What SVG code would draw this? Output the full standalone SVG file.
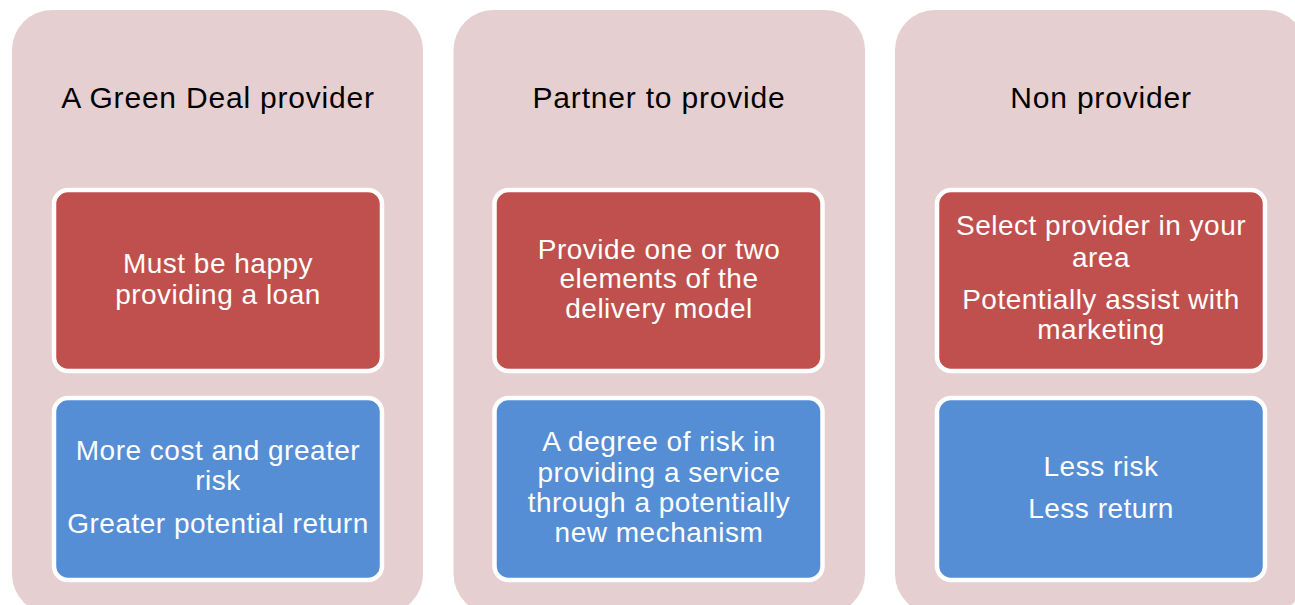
<svg xmlns="http://www.w3.org/2000/svg" width="1295" height="605" viewBox="0 0 1295 605">
  <style>
    .col { fill: #E6CFD0; }
    .title { font-family: "Liberation Sans", Arial, sans-serif; font-size: 30px; letter-spacing: 0.8px; fill: #000; text-anchor: middle; }
    .box { stroke: #FFFFFF; stroke-width: 4.5; }
    .red { fill: #C0504D; }
    .blue { fill: #558ED5; }
    .txt { font-family: "Liberation Sans", Arial, sans-serif; font-size: 28px; letter-spacing: 0.5px; fill: #FFFFFF; text-anchor: middle; }
  </style>

  <!-- Column 1 -->
  <g id="col-provider">
    <rect class="col" x="12" y="10" width="411" height="604" rx="40" ry="40"/>
    <text class="title" x="218" y="108">A Green Deal provider</text>
  </g>
  <g id="provider-requirement">
    <rect class="box red" x="54" y="190" width="328" height="181" rx="14" ry="14"/>
    <text class="txt" x="218" y="273">Must be happy</text>
    <text class="txt" x="218" y="304">providing a loan</text>
  </g>
  <g id="provider-risk">
    <rect class="box blue" x="54" y="398" width="328" height="182" rx="14" ry="14"/>
    <text class="txt" x="218" y="460">More cost and greater</text>
    <text class="txt" x="218" y="490">risk</text>
    <text class="txt" x="218" y="532.5">Greater potential return</text>
  </g>

  <!-- Column 2 -->
  <g id="col-partner">
    <rect class="col" x="453.5" y="10" width="411.5" height="604" rx="40" ry="40"/>
    <text class="title" x="659" y="108">Partner to provide</text>
  </g>
  <g id="partner-requirement">
    <rect class="box red" x="494.5" y="190" width="328" height="181" rx="14" ry="14"/>
    <text class="txt" x="659" y="258.5">Provide one or two</text>
    <text class="txt" x="659" y="288">elements of the</text>
    <text class="txt" x="659" y="317.5">delivery model</text>
  </g>
  <g id="partner-risk">
    <rect class="box blue" x="494.5" y="398" width="328" height="182" rx="14" ry="14"/>
    <text class="txt" x="659" y="450.5">A degree of risk in</text>
    <text class="txt" x="659" y="481.5">providing a service</text>
    <text class="txt" x="659" y="511.5">through a potentially</text>
    <text class="txt" x="659" y="542">new mechanism</text>
  </g>

  <!-- Column 3 -->
  <g id="col-non-provider">
    <rect class="col" x="895" y="10" width="411" height="604" rx="40" ry="40"/>
    <text class="title" x="1101" y="108">Non provider</text>
  </g>
  <g id="non-provider-requirement">
    <rect class="box red" x="937" y="190" width="328" height="181" rx="14" ry="14"/>
    <text class="txt" x="1101" y="235">Select provider in your</text>
    <text class="txt" x="1101" y="267">area</text>
    <text class="txt" x="1101" y="308.5">Potentially assist with</text>
    <text class="txt" x="1101" y="338.5">marketing</text>
  </g>
  <g id="non-provider-risk">
    <rect class="box blue" x="937" y="398" width="328" height="182" rx="14" ry="14"/>
    <text class="txt" x="1101" y="476">Less risk</text>
    <text class="txt" x="1101" y="518">Less return</text>
  </g>

  <!-- no connectors in this layout -->
  <g id="connectors"/>
</svg>
